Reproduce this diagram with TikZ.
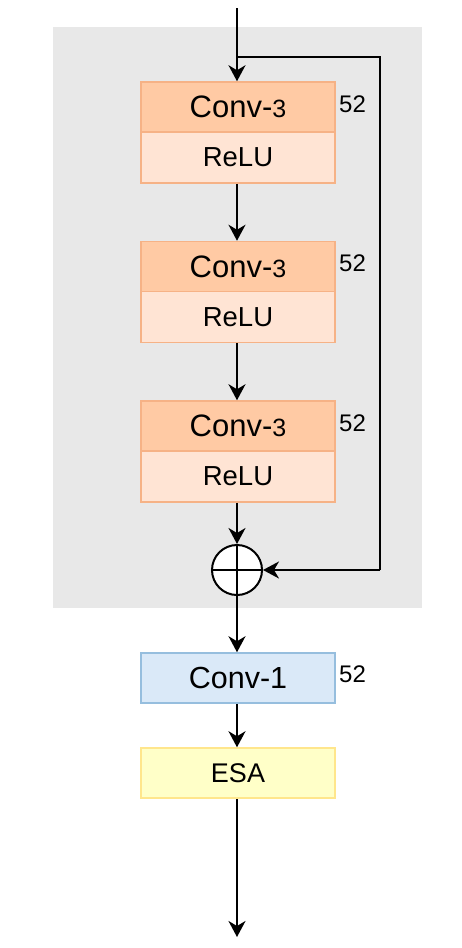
\documentclass[tikz,border=0pt]{standalone}
\usepackage{fontspec}
\setmainfont{Liberation Sans}
\usetikzlibrary{arrows.meta}
\definecolor{bgray}{RGB}{232,232,232}
\definecolor{convfill}{RGB}{255,202,164}
\definecolor{relufill}{RGB}{255,228,212}
\definecolor{orstroke}{RGB}{246,178,134}
\definecolor{bluefill}{RGB}{218,233,248}
\definecolor{bluestroke}{RGB}{150,190,222}
\definecolor{yelfill}{RGB}{255,255,200}
\definecolor{yelstroke}{RGB}{255,230,140}
\tikzset{
  convbox/.style={draw=orstroke, fill=convfill, line width=1.5pt, minimum width=194pt, minimum height=50pt, inner sep=0pt, font=\fontsize{31}{34}\selectfont},
  relubox/.style={draw=orstroke, fill=relufill, line width=1.5pt, minimum width=194pt, minimum height=51pt, inner sep=0pt, font=\fontsize{27.5}{30}\selectfont},
  bluebox/.style={draw=bluestroke, fill=bluefill, line width=1.5pt, minimum width=194pt, minimum height=50pt, inner sep=0pt, font=\fontsize{30.5}{34}\selectfont},
  yelbox/.style={draw=yelstroke, fill=yelfill, line width=1.5pt, minimum width=194pt, minimum height=50pt, inner sep=0pt, font=\fontsize{27}{30}\selectfont},
  numlbl/.style={anchor=west, inner sep=0pt, font=\fontsize{24}{27}\selectfont},
  arr/.style={line width=2pt, -{Stealth[length=16pt,width=17pt,inset=5pt]}},
  ln/.style={line width=2pt},
}
\newcommand{\convthree}{Conv-{\fontsize{25}{28}\selectfont 3}}
\begin{document}
\begin{tikzpicture}[x=1pt,y=-1pt]
\useasboundingbox (0,0) rectangle (462,948);
\fill[bgray] (53,27) rectangle (422,608);

\node[convbox] (c1) at (238,107) {\convthree};
\node[relubox] (r1) at (238,157.5) {ReLU};
\node[numlbl] (n1) at (339,104) {52};

\node[convbox] (c2) at (238,266.5) {\convthree};
\node[relubox] (r2) at (238,317) {ReLU};
\node[numlbl] (n2) at (339,263.5) {52};

\node[convbox] (c3) at (238,426) {\convthree};
\node[relubox] (r3) at (238,476.5) {ReLU};
\node[numlbl] (n3) at (339,423) {52};

\node[draw, line width=2pt, fill=white, circle, minimum size=50pt, inner sep=0pt] (plus) at (237,570) {};
\draw[line width=2pt] (plus.north) -- (plus.south);
\draw[line width=2pt] (plus.west) -- (plus.east);

\node[bluebox] (cv1) at (238,678) {Conv-1};
\node[numlbl] (n4) at (339,674) {52};
\node[yelbox] (esa) at (238,773) {ESA};

\coordinate (top) at (237,8);
\coordinate (split) at (237,57);
\coordinate (sr) at (380,57);
\coordinate (br) at (380,570);
\coordinate (bot) at (237,937);

\draw[arr] (top) -- (c1.north -| top);
\draw[ln] (split) -- (sr) -- (br);
\draw[arr] (br) -- (plus.east);
\draw[arr] (r1.south -| top) -- (c2.north -| top);
\draw[arr] (r2.south -| top) -- (c3.north -| top);
\draw[arr] (r3.south -| top) -- (plus.north);
\draw[arr] (plus.south) -- (cv1.north -| top);
\draw[arr] (cv1.south -| top) -- (esa.north -| top);
\draw[arr] (esa.south -| top) -- (bot);
\end{tikzpicture}
\end{document}
